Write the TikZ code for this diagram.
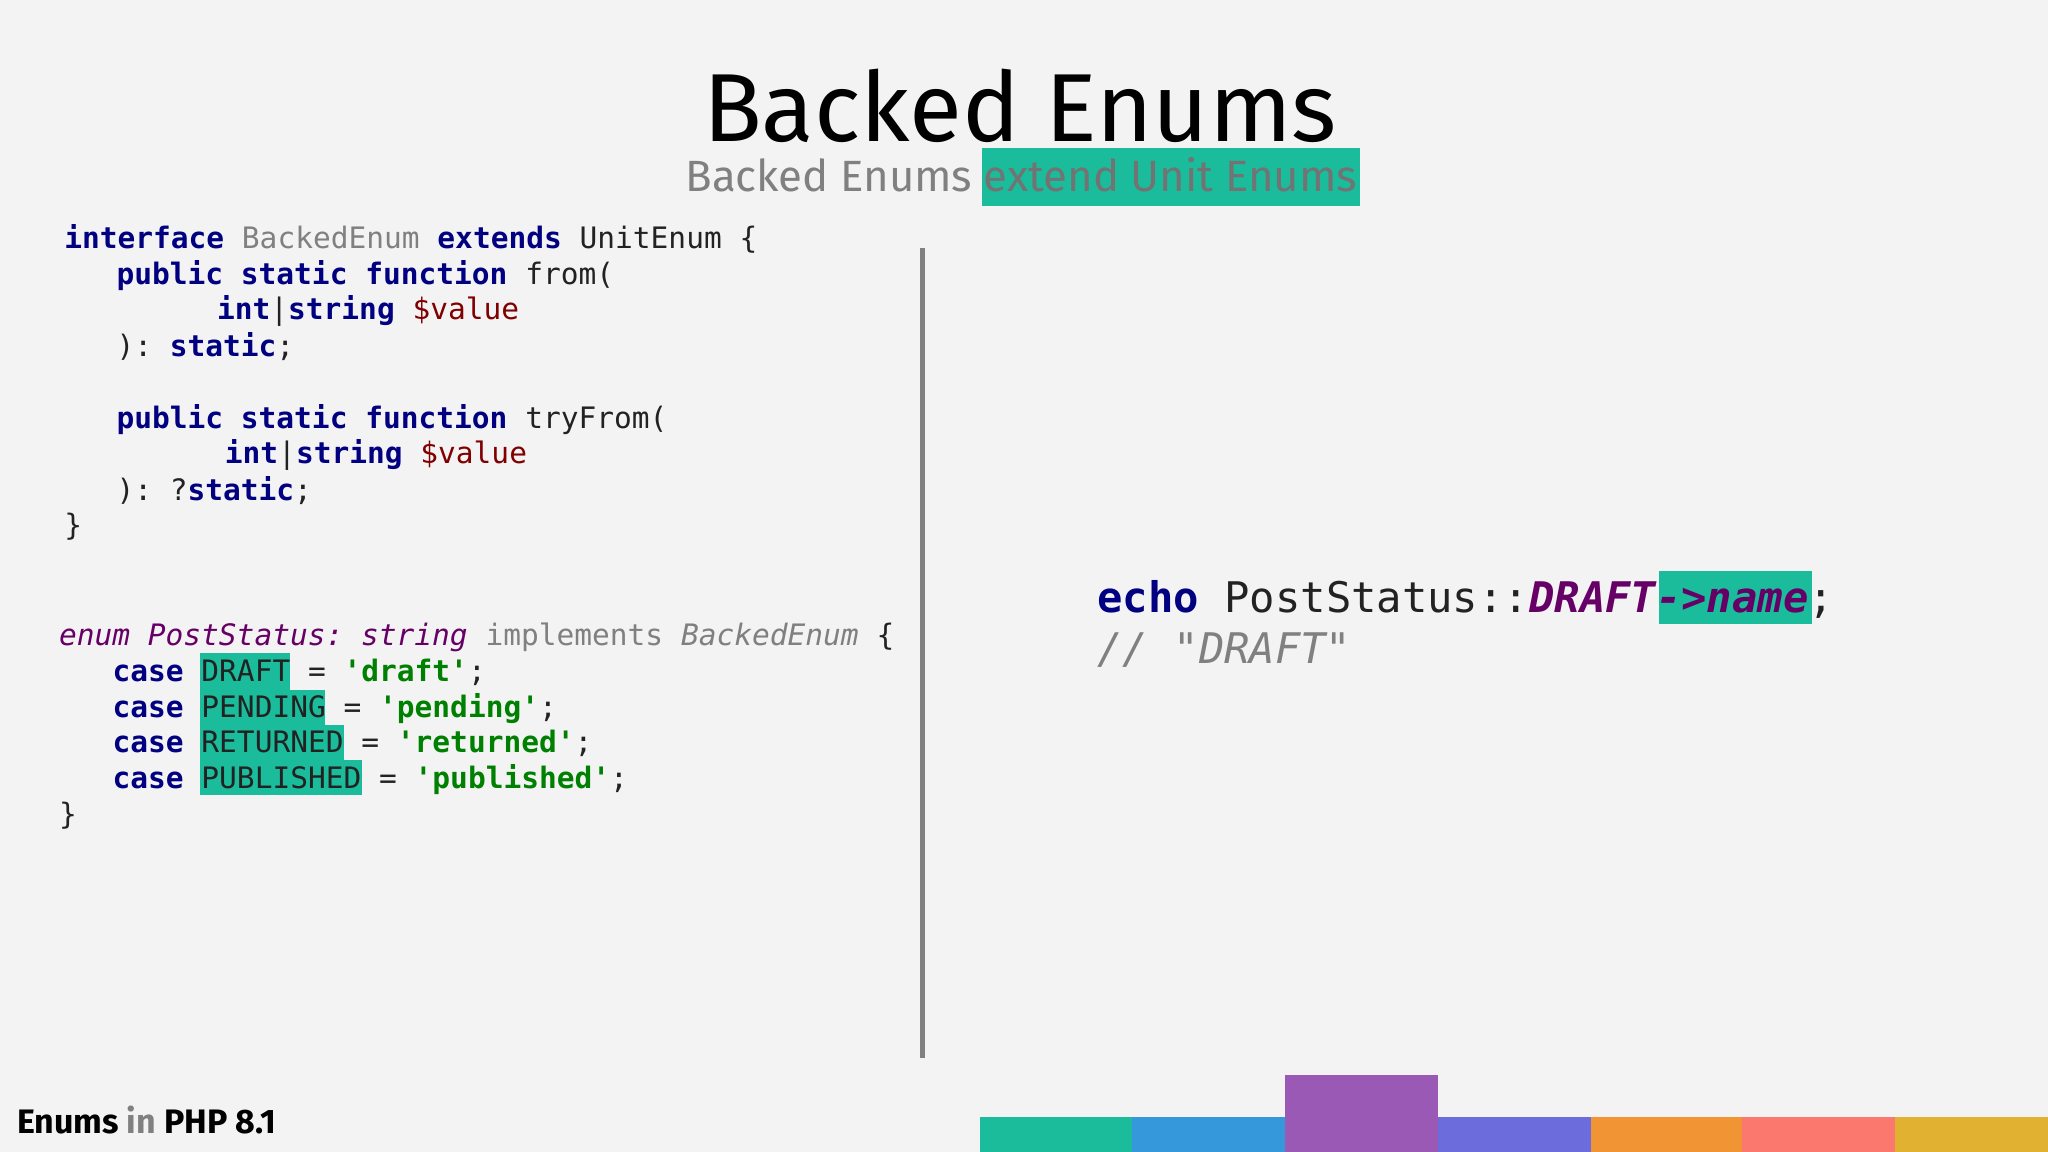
\documentclass[tikz,border=0pt]{standalone}
\usepackage{fontspec}
\setmainfont{Fira Sans}
\setmonofont{DejaVu Sans Mono}
\definecolor{bg}{RGB}{243,243,244}
\definecolor{hl}{RGB}{26,188,156}
\definecolor{kw}{RGB}{0,0,128}
\definecolor{vr}{RGB}{128,0,0}
\definecolor{pu}{RGB}{102,0,102}
\definecolor{gr}{RGB}{128,128,128}
\definecolor{st}{RGB}{0,128,0}
\definecolor{tx}{RGB}{34,34,34}
\definecolor{c1}{RGB}{26,188,156}
\definecolor{c2}{RGB}{52,152,219}
\definecolor{c3}{RGB}{155,89,182}
\definecolor{c4}{RGB}{108,108,220}
\definecolor{c5}{RGB}{240,148,52}
\definecolor{c6}{RGB}{250,120,110}
\definecolor{c7}{RGB}{225,178,50}
\newcommand{\cK}[1]{\textcolor{kw}{\textbf{#1}}}
\newcommand{\cV}[1]{\textcolor{vr}{#1}}
\newcommand{\cG}[1]{\textcolor{gr}{#1}}
\newcommand{\cS}[1]{\textcolor{st}{\textbf{#1}}}
\newcommand{\cP}[1]{\textcolor{pu}{\textit{#1}}}
\begin{document}
\begin{tikzpicture}[x=1pt,y=-1pt,
  code/.style={anchor=base west,inner sep=0pt,font=\fontsize{22.6}{27}\ttfamily,text=tx},
  big/.style={anchor=base west,inner sep=0pt,font=\fontsize{32.3}{38}\ttfamily,text=tx}]
\fill[bg] (0,0) rectangle (1568,882);
\useasboundingbox (0,0) rectangle (1568,882);
% highlights
\fill[hl] (752,113) rectangle (1041,158);
\fill[hl] (153,500) rectangle (222,528);
\fill[hl] (153,528) rectangle (249,555);
\fill[hl] (153,555) rectangle (263,582);
\fill[hl] (153,582) rectangle (277,609);
\fill[hl] (1270,437) rectangle (1387,478);
% title
\node[anchor=base,inner sep=0pt,font=\fontsize{74}{84}\selectfont,text=black] (title) at (781,108) {Backed Enums};
\node[anchor=base,inner sep=0pt,font=\fontsize{33.5}{40}\selectfont,text=gr] (sub) at (782,147) {Backed Enums \textcolor{gr!90!black}{extend Unit Enums}};
% code left
\node[code] (l1) at (49,190) {\cK{interface} \cG{BackedEnum} \cK{extends} UnitEnum \{};
\node[code] (l2) at (89,218) {\cK{public} \cK{static} \cK{function} from(};
\node[code] (l3) at (166,245) {\cK{int}|\cK{string} \cV{\$value}};
\node[code] (l4) at (89,273) {): \cK{static};};
\node[code] (l5) at (89,328) {\cK{public} \cK{static} \cK{function} tryFrom(};
\node[code] (l6) at (172,355) {\cK{int}|\cK{string} \cV{\$value}};
\node[code] (l7) at (89,383) {): ?\cK{static};};
\node[code] (l8) at (49,410) {\}};
\node[code] (e1) at (45,494) {\cP{enum PostStatus: string} \cG{implements} \cG{\textit{BackedEnum}} \{};
\node[code] (e2) at (86,522) {\cK{case} DRAFT = \cS{'draft'};};
\node[code] (e3) at (86,549) {\cK{case} PENDING = \cS{'pending'};};
\node[code] (e4) at (86,576) {\cK{case} RETURNED = \cS{'returned'};};
\node[code] (e5) at (86,604) {\cK{case} PUBLISHED = \cS{'published'};};
\node[code] (e6) at (45,631) {\}};
% divider
\draw[line width=4pt,color=gr] (706,190) -- (706,810);
% right
\node[big] (r1) at (840,469) {\cK{echo} PostStatus::\textcolor{pu}{\textbf{\textit{DRAFT->name}}};};
\node[big] (r2) at (840,508) {\textcolor{gr}{\textit{// "DRAFT"}}};
% footer
\node[anchor=base west,inner sep=0pt,font=\fontsize{26}{30}\selectfont\bfseries] (foot) at (13,868) {Enums \textcolor{gr}{in} PHP 8.1};
% bars
\fill[c1] (750,855) rectangle (867,882);
\fill[c2] (867,855) rectangle (984,882);
\fill[c3] (984,823) rectangle (1101,882);
\fill[c4] (1101,855) rectangle (1218,882);
\fill[c5] (1218,855) rectangle (1334,882);
\fill[c6] (1334,855) rectangle (1451,882);
\fill[c7] (1451,855) rectangle (1568,882);
\end{tikzpicture}
\end{document}
